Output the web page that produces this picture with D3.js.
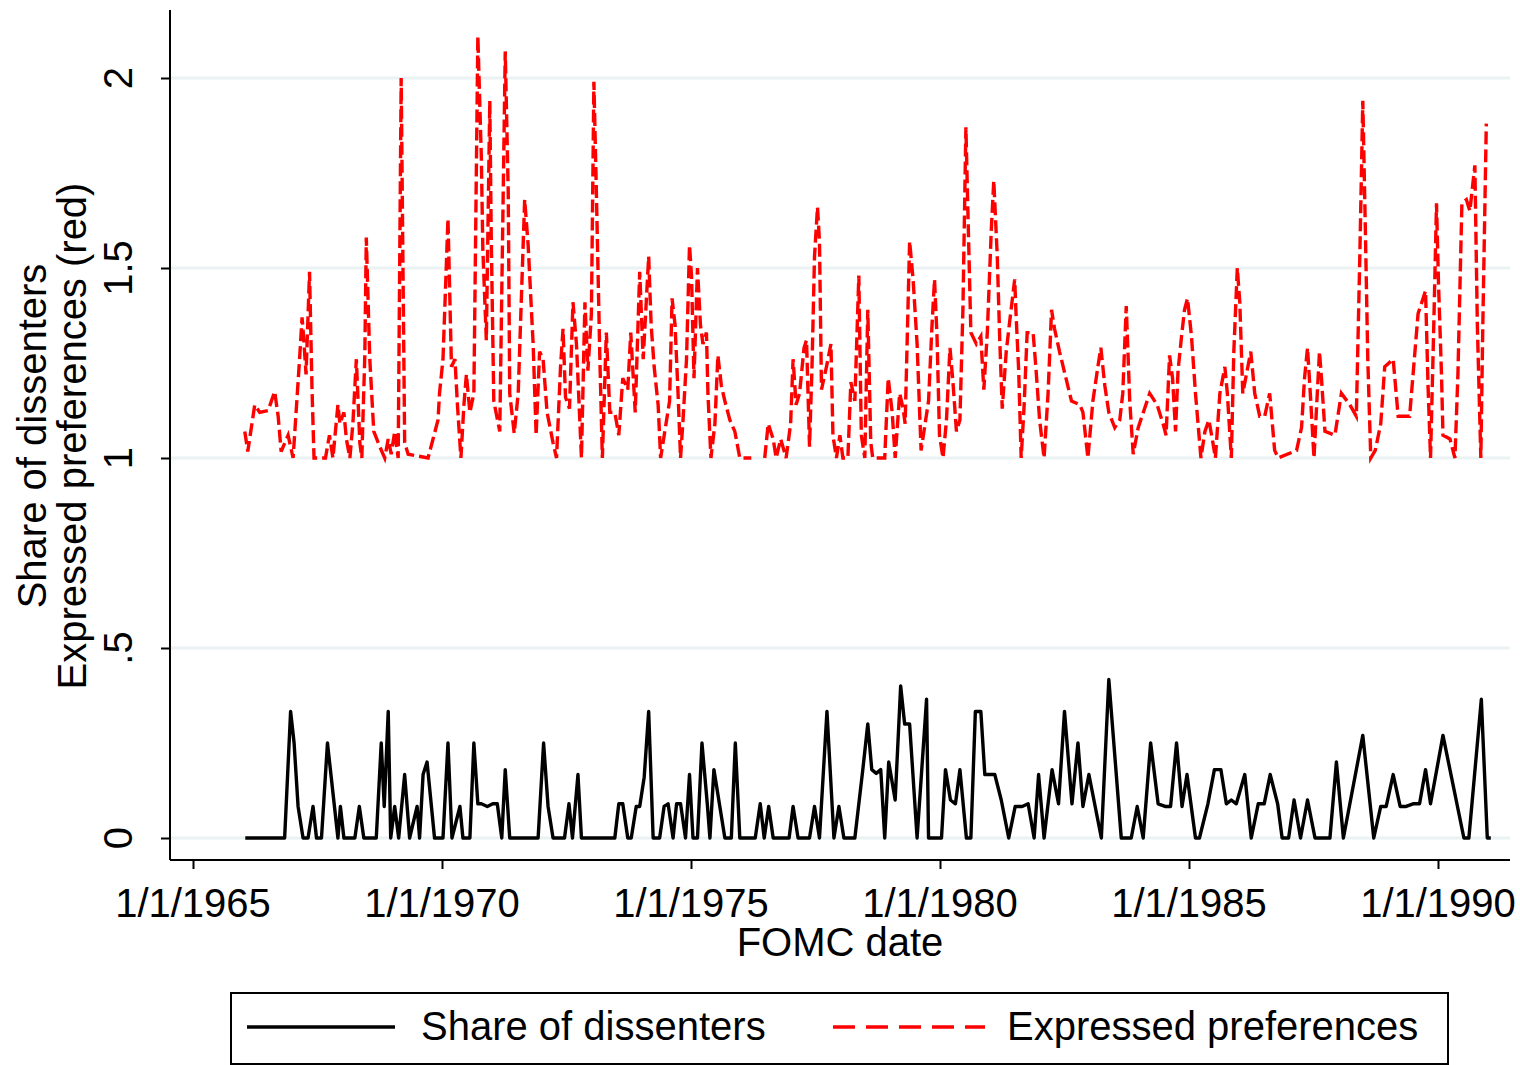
<!DOCTYPE html>
<html><head><meta charset="utf-8">
<script src="https://cdn.jsdelivr.net/npm/d3@7"></script>
<style>body{margin:0;background:#fff}svg{display:block}text{font-family:"Liberation Sans",Arial,Helvetica,sans-serif;fill:#000}</style>
</head><body><svg id="c" width="1520" height="1065"></svg>
<script>
// Share of dissenters (FOMC date as decimal year, value)
const dissentDates = [1966.05,1966.84,1966.96,1967.03,1967.11,1967.21,1967.31,1967.41,1967.48,1967.58,1967.70,1967.91,1967.96,1968.03,1968.25,1968.34,1968.43,1968.68,1968.78,1968.84,1968.92,1968.97,1969.05,1969.13,1969.25,1969.35,1969.50,1969.55,1969.62,1969.70,1969.85,1970.02,1970.12,1970.20,1970.36,1970.42,1970.56,1970.64,1970.72,1970.79,1970.91,1971.02,1971.11,1971.20,1971.27,1971.36,1971.93,1972.04,1972.13,1972.23,1972.46,1972.55,1972.62,1972.73,1972.80,1973.47,1973.55,1973.63,1973.73,1973.80,1973.90,1973.97,1974.06,1974.15,1974.24,1974.37,1974.46,1974.54,1974.64,1974.71,1974.79,1974.89,1974.97,1975.04,1975.13,1975.22,1975.33,1975.38,1975.46,1975.68,1975.81,1975.89,1975.98,1976.29,1976.39,1976.47,1976.56,1976.65,1976.97,1977.05,1977.15,1977.38,1977.48,1977.58,1977.73,1977.87,1977.97,1978.07,1978.29,1978.45,1978.55,1978.63,1978.72,1978.81,1978.89,1978.97,1979.10,1979.21,1979.29,1979.39,1979.54,1979.73,1979.77,1980.03,1980.11,1980.21,1980.31,1980.40,1980.53,1980.62,1980.71,1980.82,1980.90,1981.10,1981.23,1981.38,1981.51,1981.65,1981.77,1981.89,1981.98,1982.09,1982.25,1982.38,1982.50,1982.65,1982.77,1982.87,1982.99,1983.24,1983.39,1983.64,1983.84,1983.96,1984.08,1984.23,1984.38,1984.52,1984.63,1984.75,1984.86,1984.96,1985.13,1985.21,1985.38,1985.51,1985.64,1985.75,1985.85,1985.95,1986.12,1986.25,1986.39,1986.51,1986.63,1986.78,1986.87,1987.00,1987.11,1987.24,1987.38,1987.53,1987.83,1987.96,1988.10,1988.49,1988.71,1988.85,1988.96,1989.10,1989.24,1989.36,1989.50,1989.63,1989.75,1989.85,1990.10,1990.52,1990.62,1990.87,1990.99,1991.06];
const dissentValues = [0,0,0.333,0.25,0.083,0,0,0.083,0,0,0.25,0,0.083,0,0,0.083,0,0,0.25,0.083,0.333,0,0.083,0,0.167,0,0.083,0,0.167,0.2,0,0,0.25,0,0.083,0,0,0.25,0.09,0.09,0.083,0.09,0.09,0,0.18,0,0,0.25,0.083,0,0,0.09,0,0.167,0,0,0.09,0.09,0,0,0.083,0.083,0.16,0.333,0,0,0.083,0.09,0,0.09,0.09,0,0.167,0,0,0.25,0.085,0,0.18,0,0,0.25,0,0,0.09,0,0.083,0,0,0.083,0,0,0.083,0,0.333,0,0.083,0,0,0.18,0.3,0.18,0.17,0.18,0,0.2,0.1,0.4,0.3,0.3,0,0.365,0,0,0.18,0.1,0.09,0.18,0,0,0.333,0.333,0.167,0.167,0.1,0,0.083,0.083,0.09,0,0.167,0,0.18,0.09,0.333,0.09,0.25,0.083,0.167,0,0.417,0,0,0.083,0,0.25,0.09,0.083,0.083,0.25,0.083,0.167,0,0,0.09,0.18,0.18,0.09,0.1,0.09,0.167,0,0.09,0.09,0.167,0.09,0,0,0.1,0,0.1,0,0,0.2,0,0.27,0,0.083,0.083,0.167,0.083,0.083,0.09,0.09,0.18,0.09,0.27,0,0,0.365,0,0];
// Expressed preferences (null = missing meeting)
const prefDates = [1966.04,1966.10,1966.24,1966.34,1966.51,1966.64,1966.71,1966.77,1966.91,1967.01,1967.07,1967.14,1967.19,1967.22,1967.27,1967.34,1967.39,1967.43,1967.66,1967.74,1967.81,1967.91,1967.95,1968.03,1968.08,1968.15,1968.21,1968.28,1968.35,1968.39,1968.45,1968.48,1968.55,1968.63,1968.75,1968.85,1968.92,1968.98,1969.05,1969.12,1969.18,1969.25,1969.32,1969.72,1969.82,1969.92,1969.95,1970.02,1970.12,1970.19,1970.26,1970.31,1970.38,1970.44,1970.49,1970.56,1970.64,1970.72,1970.79,1970.82,1970.89,1970.96,1970.99,1971.04,1971.16,1971.27,1971.33,1971.36,1971.45,1971.53,1971.66,1971.73,1971.83,1971.89,1971.96,1972.03,1972.11,1972.23,1972.30,1972.38,1972.43,1972.48,1972.56,1972.63,1972.70,1972.77,1972.80,1972.87,1972.93,1973.00,1973.05,1973.10,1973.17,1973.22,1973.30,1973.37,1973.47,1973.55,1973.63,1973.73,1973.79,1973.88,1973.97,1974.04,1974.15,1974.20,1974.26,1974.34,1974.39,1974.57,1974.62,1974.68,1974.74,1974.79,1974.84,1974.91,1974.97,1975.01,1975.06,1975.13,1975.19,1975.24,1975.31,1975.34,1975.40,1975.48,1975.54,1975.61,1975.68,1975.78,1975.88,1975.98,1976.21,1976.35,1976.48,1976.55,1976.65,1976.71,1976.80,1976.91,1977.00,1977.05,1977.11,1977.18,1977.27,1977.32,1977.38,1977.43,1977.48,1977.54,1977.58,1977.62,1977.72,1977.81,1977.85,1977.92,1977.99,1978.05,1978.15,1978.21,1978.29,1978.37,1978.42,1978.49,1978.55,1978.61,1978.65,1978.89,1978.96,1979.04,1979.10,1979.19,1979.26,1979.30,1979.39,1979.46,1979.54,1979.62,1979.77,1979.84,1979.89,1979.94,1979.99,1980.06,1980.13,1980.20,1980.26,1980.33,1980.40,1980.46,1980.52,1980.56,1980.62,1980.73,1980.82,1980.88,1980.95,1981.03,1981.08,1981.15,1981.20,1981.25,1981.33,1981.40,1981.50,1981.53,1981.58,1981.63,1981.69,1981.75,1981.87,1981.93,1982.00,1982.09,1982.17,1982.24,1982.30,1982.40,1982.64,1982.81,1982.87,1982.97,1983.07,1983.17,1983.23,1983.31,1983.39,1983.51,1983.61,1983.67,1983.74,1983.81,1983.88,1983.98,1984.21,1984.36,1984.48,1984.54,1984.61,1984.67,1984.73,1984.78,1984.85,1984.91,1984.97,1985.05,1985.13,1985.24,1985.32,1985.40,1985.48,1985.53,1985.62,1985.72,1985.77,1985.85,1985.90,1985.97,1986.02,1986.08,1986.24,1986.32,1986.42,1986.52,1986.62,1986.72,1986.79,1987.16,1987.26,1987.32,1987.38,1987.44,1987.51,1987.56,1987.62,1987.66,1987.73,1987.93,1988.06,1988.23,1988.36,1988.43,1988.49,1988.54,1988.59,1988.65,1988.74,1988.85,1988.93,1989.10,1989.20,1989.43,1989.60,1989.75,1989.80,1989.85,1989.91,1989.97,1990.01,1990.07,1990.10,1990.24,1990.34,1990.40,1990.48,1990.57,1990.64,1990.74,1990.79,1990.86,1990.90,1990.97];
const prefValues = [1.07,1.017,1.14,1.12,1.125,1.175,1.11,1.017,1.06,1.0,1.12,1.26,1.37,1.32,1.22,1.49,1.18,1.0,1.0,1.06,1.0,1.14,1.09,1.12,1.05,1.0,1.09,1.26,1.04,1.0,1.27,1.58,1.26,1.07,1.03,1.0,1.05,1.01,1.07,1.0,2.0,1.04,1.01,1.0,1.05,1.1,1.17,1.26,1.63,1.24,1.26,1.14,1.0,1.14,1.22,1.12,1.17,2.11,1.79,1.55,1.31,1.94,1.57,1.15,1.07,2.07,1.7,1.17,1.065,1.17,1.68,1.56,1.3,1.06,1.28,1.26,1.12,1.04,1.0,1.24,1.34,1.16,1.13,1.41,1.3,1.09,1.0,1.41,1.23,1.38,1.99,1.7,1.26,1.0,1.33,1.12,1.12,1.06,1.21,1.18,1.33,1.12,1.49,1.26,1.53,1.35,1.24,1.14,1.0,1.15,1.42,1.35,1.17,1.0,1.1,1.26,1.56,1.48,1.21,1.5,1.35,1.3,1.33,1.17,1.0,1.09,1.27,1.19,1.15,1.1,1.07,1.0,1.0,null,1.0,1.09,1.05,1.0,1.05,1.0,1.09,1.26,1.14,1.17,1.29,1.31,1.03,1.24,1.53,1.66,1.57,1.18,1.24,1.3,1.06,1.0,1.06,1.0,1.0,1.2,1.15,1.48,1.06,1.0,1.39,1.04,1.0,1.0,1.21,1.12,1.0,1.17,1.13,1.09,1.57,1.47,1.3,1.02,1.15,1.35,1.47,1.32,1.06,1.0,1.1,1.29,1.2,1.07,1.1,1.39,1.87,1.65,1.33,1.3,1.32,1.18,1.33,1.6,1.73,1.53,1.31,1.13,1.28,1.36,1.47,1.37,1.23,1.0,1.14,1.33,1.33,1.23,1.1,1.0,1.17,1.39,1.34,1.28,1.15,1.14,1.12,1.0,1.15,1.24,1.29,1.19,1.12,1.08,1.1,1.17,1.4,1.15,1.01,1.08,1.17,1.14,1.09,1.06,1.27,1.21,1.07,1.23,1.32,1.39,1.42,1.32,1.17,1.0,1.07,1.1,1.04,1.0,1.17,1.24,1.17,1.0,1.28,1.5,1.41,1.17,1.28,1.17,1.11,1.11,1.17,1.02,1.0,1.02,1.08,1.21,1.29,1.16,1.0,1.13,1.28,1.21,1.07,1.06,1.17,1.14,1.11,1.53,1.94,1.61,1.26,1.0,1.02,1.09,1.24,1.26,1.11,1.11,1.38,1.44,1.19,1.0,1.32,1.67,1.46,1.22,1.06,1.05,1.0,1.22,1.67,1.68,1.65,1.77,1.35,1.0,1.35,1.88];
const xTickYears = [1965,1970,1975,1980,1985,1990];
const xTickLabels = ["1/1/1965","1/1/1970","1/1/1975","1/1/1980","1/1/1985","1/1/1990"];
const yTicks = [0,0.5,1,1.5,2];
const yTickLabels = ["0",".5","1","1.5","2"];
const legendLabels = ["Share of dissenters","Expressed preferences"];

const svg = d3.select("#c");
const x = d3.scaleLinear().domain([1965,1990]).range([193,1438]);
const y = d3.scaleLinear().domain([0,2]).range([838,78]);
const L=170, R=1510, T=10, B=860;
const FS = 40;

// gridlines
svg.append("g").selectAll("line").data(yTicks).join("line")
  .attr("x1",L).attr("x2",R).attr("y1",d=>y(d)).attr("y2",d=>y(d))
  .attr("stroke","#eaf2f3").attr("stroke-width",3);

// lines
const black = dissentDates.map((d,i)=>[d,dissentValues[i]]);
const red = prefDates.map((d,i)=>[d,prefValues[i]]);
const line = d3.line().defined(d=>d[1]!==null).x(d=>x(d[0])).y(d=>y(d[1]));
svg.append("path").attr("d",line(black)).attr("fill","none").attr("stroke","#000")
  .attr("stroke-width",3.4).attr("stroke-linejoin","round");
svg.append("path").attr("d",line(red)).attr("fill","none").attr("stroke","#ff0000")
  .attr("stroke-width",3.4).attr("stroke-dasharray","13,5");

// axes
const yAxis = d3.axisLeft(y).tickValues(yTicks).tickSize(9).tickFormat("");
const gy = svg.append("g").attr("transform",`translate(${L},0)`).call(yAxis);
gy.select(".domain").attr("d",`M0,${T}V${B}`).attr("stroke","#000").attr("stroke-width",2);
gy.selectAll(".tick line").attr("stroke","#000").attr("stroke-width",2);
svg.append("g").selectAll("text").data(yTicks).join("text")
  .attr("transform",(d)=>`translate(118,${y(d)}) rotate(-90)`)
  .attr("text-anchor","middle").attr("dominant-baseline","central")
  .style("font-size",FS+"px").text((d,i)=>yTickLabels[i]);

const xAxis = d3.axisBottom(x).tickValues(xTickYears).tickSize(9).tickFormat("");
const gx = svg.append("g").attr("transform",`translate(0,${B})`).call(xAxis);
gx.select(".domain").attr("d",`M${L},0H${R}`).attr("stroke","#000").attr("stroke-width",2);
gx.selectAll(".tick line").attr("stroke","#000").attr("stroke-width",2);
svg.append("g").selectAll("text").data(xTickYears).join("text")
  .attr("x",d=>x(d)).attr("y",903).attr("text-anchor","middle").attr("dominant-baseline","central")
  .style("font-size",FS+"px").text((d,i)=>xTickLabels[i]);

svg.append("text").attr("x",(L+R)/2).attr("y",942).attr("text-anchor","middle")
  .attr("dominant-baseline","central").style("font-size",FS+"px").text("FOMC date");
svg.append("text").attr("transform","translate(32,436) rotate(-90)").attr("text-anchor","middle")
  .attr("dominant-baseline","central").style("font-size",FS+"px").text("Share of dissenters");
svg.append("text").attr("transform","translate(72,436) rotate(-90)").attr("text-anchor","middle")
  .attr("dominant-baseline","central").style("font-size",FS+"px").text("Expressed preferences (red)");

// legend
svg.append("rect").attr("x",231).attr("y",993).attr("width",1217).attr("height",71)
  .attr("fill","#fff").attr("stroke","#000").attr("stroke-width",2);
svg.append("line").attr("x1",247).attr("x2",395).attr("y1",1027).attr("y2",1027)
  .attr("stroke","#000").attr("stroke-width",3.4);
svg.append("line").attr("x1",833).attr("x2",985).attr("y1",1027).attr("y2",1027)
  .attr("stroke","#ff0000").attr("stroke-width",3.4).attr("stroke-dasharray","22,11");
svg.append("text").attr("x",421).attr("y",1026).attr("dominant-baseline","central")
  .style("font-size",FS+"px").text(legendLabels[0]);
svg.append("text").attr("x",1007).attr("y",1026).attr("dominant-baseline","central")
  .style("font-size",FS+"px").text(legendLabels[1]);
</script></body></html>
